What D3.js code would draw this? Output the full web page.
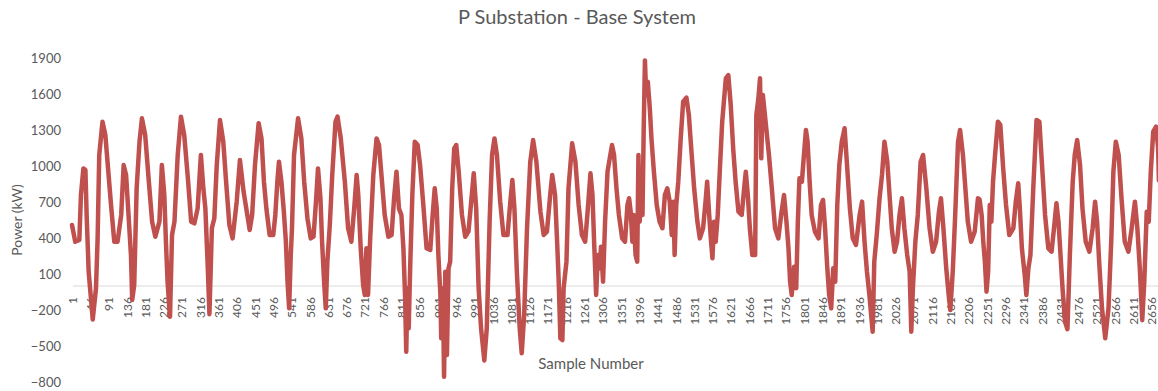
<!DOCTYPE html>
<html>
<head>
<meta charset="utf-8">
<script src="https://cdn.jsdelivr.net/npm/d3@7"></script>
<style>
  body { margin: 0; background: #fff; }
  svg { display: block; }
  text { font-family: Lato, "Open Sans", sans-serif; fill: #595959; }
</style>
</head>
<body>
<svg id="chart" width="1158" height="391"></svg>
<script>
// values (turning points of the trace)
var sampleNo = [
  1, 9, 19, 23, 29, 34, 37, 42, 52, 60, 64, 68, 76, 83, 89, 97, 105, 113, 122, 128,
  134, 140, 146, 149, 154, 160, 167, 173, 181, 190, 198, 206, 216, 222, 228, 232, 236, 242, 247, 253,
  261, 269, 277, 286, 294, 302, 310, 318, 324, 329, 335, 339, 345, 351, 357, 365, 373, 380, 388, 396,
  406, 414, 423, 438, 444, 451, 460, 467, 473, 479, 487, 496, 501, 506, 510, 516, 522, 527, 531, 535,
  539, 542, 547, 557, 565, 572, 580, 588, 595, 601, 606, 612, 616, 621, 625, 629, 635, 641, 649, 654,
  662, 672, 680, 688, 695, 701, 705, 711, 717, 721, 725, 729, 734, 742, 750, 756, 762, 770, 779, 787,
  793, 799, 805, 811, 816, 820, 823, 826, 829, 833, 838, 844, 851, 857, 865, 873, 882, 888, 893, 898,
  902, 907, 909, 913, 916, 919, 923, 927, 931, 936, 941, 946, 952, 960, 968, 976, 982, 989, 995, 1001,
  1007, 1015, 1021, 1028, 1034, 1040, 1046, 1054, 1062, 1072, 1079, 1084, 1089, 1095, 1102, 1107, 1113, 1120, 1128, 1135,
  1143, 1153, 1161, 1169, 1177, 1182, 1189, 1194, 1198, 1202, 1207, 1210, 1217, 1222, 1231, 1239, 1247, 1255, 1263, 1269,
  1276, 1281, 1285, 1290, 1294, 1299, 1302, 1307, 1312, 1318, 1329, 1334, 1340, 1346, 1354, 1361, 1367, 1371, 1375, 1379,
  1382, 1387, 1391, 1394, 1397, 1400, 1404, 1407, 1410, 1413, 1417, 1422, 1426, 1432, 1439, 1446, 1453, 1459, 1465, 1471,
  1476, 1480, 1483, 1487, 1492, 1498, 1504, 1512, 1518, 1525, 1531, 1539, 1545, 1553, 1559, 1563, 1568, 1572, 1576, 1580,
  1584, 1589, 1594, 1600, 1609, 1615, 1621, 1627, 1633, 1640, 1648, 1654, 1658, 1663, 1668, 1674, 1681, 1684, 1689, 1693,
  1696, 1700, 1705, 1710, 1715, 1722, 1730, 1738, 1746, 1752, 1758, 1763, 1767, 1771, 1777, 1782, 1786, 1790, 1796, 1801,
  1806, 1810, 1815, 1820, 1828, 1837, 1843, 1848, 1853, 1858, 1863, 1868, 1873, 1878, 1883, 1888, 1894, 1901, 1907, 1914,
  1921, 1929, 1938, 1944, 1950, 1956, 1962, 1970, 1974, 1980, 1987, 1993, 1999, 2006, 2011, 2017, 2024, 2030, 2036, 2042,
  2048, 2055, 2061, 2065, 2069, 2075, 2081, 2088, 2094, 2102, 2110, 2118, 2126, 2133, 2138, 2144, 2151, 2157, 2161, 2167,
  2173, 2180, 2185, 2192, 2198, 2204, 2212, 2221, 2229, 2233, 2238, 2242, 2246, 2250, 2254, 2258, 2262, 2266, 2271, 2278,
  2284, 2291, 2298, 2306, 2316, 2322, 2328, 2332, 2337, 2344, 2348, 2353, 2358, 2365, 2373, 2380, 2385, 2394, 2402, 2410,
  2416, 2422, 2427, 2432, 2437, 2443, 2449, 2455, 2462, 2467, 2473, 2480, 2486, 2494, 2503, 2511, 2517, 2522, 2527, 2534,
  2542, 2550, 2557, 2562, 2568, 2575, 2582, 2590, 2599, 2607, 2615, 2621, 2627, 2633, 2638, 2644, 2649, 2654, 2660, 2667,
  2672, 2674
];
var powerKW = [
  508, 369, 383, 758, 980, 967, 592, 119, -280, -19, 397, 1092, 1369, 1258, 1008, 675, 369, 369, 592, 1008,
  925, 592, 258, -117, 8, 814, 1203, 1397, 1258, 869, 536, 411, 536, 1008, 758, 369, 36, -256, 425, 536,
  1092, 1411, 1258, 897, 536, 522, 647, 1092, 814, 647, 147, -235, 481, 564, 1008, 1383, 1203, 869, 508, 397,
  703, 1050, 786, 467, 592, 1008, 1356, 1230, 869, 647, 425, 425, 592, 869, 1036, 869, 619, 369, 36, -186,
  258, 481, 1092, 1397, 1230, 869, 564, 397, 411, 703, 980, 731, 369, 36, -186, 203, 508, 925, 1369, 1411,
  1230, 869, 481, 369, 647, 925, 758, 314, 8, -75, 314, -75, 369, 925, 1230, 1175, 925, 592, 411, 425,
  731, 953, 647, 592, 314, -75, -547, -19, -353, 203, 758, 1203, 1175, 1008, 675, 314, 300, 592, 814, 647,
  258, -75, -436, -19, -756, 119, -575, 147, 203, 814, 1147, 1175, 953, 592, 411, 453, 675, 939, 647, -19,
  -353, -620, -353, 536, 1092, 1230, 1092, 703, 425, 425, 703, 883, 647, 119, -353, -560, -242, 481, 1036, 1217,
  1036, 619, 425, 453, 758, 925, 758, 369, 36, -436, -450, -19, 203, 814, 1189, 1036, 675, 425, 369, 619,
  939, 758, 369, -75, 258, 147, 328, 36, 536, 953, 1175, 1092, 814, 592, 397, 369, 675, 731, 619, 369,
  592, 258, 203, 1092, 536, 703, 592, 1314, 1880, 1592, 1703, 1481, 1230, 953, 675, 536, 481, 758, 814, 703,
  425, 703, 258, 675, 869, 1230, 1536, 1570, 1425, 1092, 814, 536, 397, 481, 703, 869, 592, 397, 231, 536,
  369, 592, 953, 1369, 1731, 1758, 1508, 1147, 869, 619, 592, 814, 953, 758, 481, 258, 258, 1425, 1564, 1731,
  1064, 1592, 1425, 1258, 1092, 814, 481, 397, 619, 758, 536, 314, 36, -75, 160, -19, 536, 897, 869, 1092,
  1300, 1203, 869, 592, 453, 397, 675, 717, 481, 175, -75, -186, 147, 36, 675, 1008, 1203, 1314, 1008, 647,
  397, 342, 592, 703, 369, 119, -75, -381, 203, 425, 731, 925, 1203, 1036, 786, 481, 286, 369, 592, 731,
  481, 258, 119, -381, -19, 369, 592, 1036, 1092, 814, 481, 286, 369, 619, 731, 481, 147, -75, -200, 119,
  592, 1203, 1300, 1092, 814, 536, 369, 453, 731, 720, 592, 369, 203, -47, 119, 675, 536, 869, 1092, 1369,
  1342, 981, 675, 425, 481, 703, 856, 647, 314, 92, -75, 147, 258, 814, 1383, 1369, 1092, 592, 314, 286,
  481, 689, 536, 258, -19, -297, -360, 258, 869, 1092, 1217, 1008, 647, 369, 286, 481, 703, 536, 203, -186,
  -436, -186, 397, 953, 1203, 1092, 731, 369, 286, 481, 703, 481, 147, -285, 36, 619, 536, 953, 1286, 1328,
  1147, 880
];
var yTickValues = [1900, 1600, 1300, 1000, 700, 400, 100, -200, -500, -800];
var xTickValues = [
  1, 46, 91, 136, 181, 226, 271, 316, 361, 406, 451, 496, 541, 586, 631, 676, 721, 766, 811, 856,
  901, 946, 991, 1036, 1081, 1126, 1171, 1216, 1261, 1306, 1351, 1396, 1441, 1486, 1531, 1576, 1621, 1666, 1711, 1756,
  1801, 1846, 1891, 1936, 1981, 2026, 2071, 2116, 2161, 2206, 2251, 2296, 2341, 2386, 2431, 2476, 2521, 2566, 2611, 2656
];

var svg = d3.select('#chart');
var x = d3.scaleLinear().domain([1, 2656]).range([72, 1151.6]);
var y = d3.scaleLinear().domain([-800, 1900]).range([382, 58]);

// title
svg.append('text')
  .attr('x', 577).attr('y', 24)
  .attr('text-anchor', 'middle')
  .style('font-size', '20px')
  .text('P Substation - Base System');

// y axis labels only
var yAxis = svg.append('g')
  .attr('transform', 'translate(61,0)')
  .call(d3.axisLeft(y).tickValues(yTickValues).tickFormat(d3.format('d')).tickSize(0).tickPadding(0));
yAxis.select('.domain').remove();
yAxis.selectAll('text').style('font-size', '13px').style('fill', '#595959').style('font-family', 'Lato, sans-serif');

// category axis sits on zero
svg.append('line')
  .attr('x1', 73).attr('x2', 1158)
  .attr('y1', y(0)).attr('y2', y(0))
  .attr('stroke', '#d9d9d9').attr('stroke-width', 1.2);

var xAxis = svg.append('g')
  .attr('transform', 'translate(0,' + y(0) + ')')
  .call(d3.axisBottom(x).tickValues(xTickValues).tickFormat(d3.format('d')).tickSize(0));
xAxis.select('.domain').remove();
xAxis.selectAll('text')
  .attr('transform', 'rotate(-90)')
  .attr('x', -11).attr('y', 0).attr('dy', '0.35em')
  .attr('text-anchor', 'end')
  .style('font-size', '12px').style('fill', '#595959').style('font-family', 'Lato, sans-serif');

// axis titles
svg.append('text')
  .attr('x', 591).attr('y', 369)
  .attr('text-anchor', 'middle')
  .style('font-size', '15px')
  .text('Sample Number');
svg.append('text')
  .attr('transform', 'translate(22,220) rotate(-90)')
  .attr('text-anchor', 'middle')
  .style('font-size', '14px')
  .text('Power (kW)');

// the series
var line = d3.line()
  .x(function (d, i) { return x(sampleNo[i]); })
  .y(function (d) { return y(d); });
svg.append('path')
  .datum(powerKW)
  .attr('d', line)
  .attr('fill', 'none')
  .attr('stroke', '#C0504D')
  .attr('stroke-width', 4.5)
  .attr('stroke-linejoin', 'round')
  .attr('stroke-linecap', 'round');
</script>
</body>
</html>
